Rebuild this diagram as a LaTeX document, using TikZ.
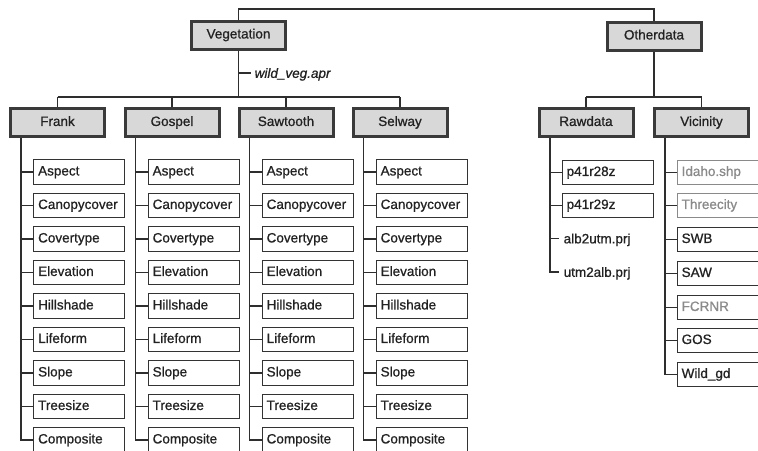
\documentclass[tikz,border=0pt]{standalone}
\usepackage{fontspec}
\setmainfont{Liberation Sans}[FakeBold=0.8]
\definecolor{ink}{HTML}{2E2E2E}
\definecolor{boxedge}{HTML}{3A3A3A}
\definecolor{boxfill}{HTML}{D8D8D8}
\definecolor{leafedge}{HTML}{333333}
\definecolor{txt}{HTML}{222222}
\definecolor{faded}{HTML}{8A8A8A}
\newcommand\diagfont{\fontsize{13.5}{16}\selectfont}
\tikzset{
  conn/.style={draw=ink, line width=1.3pt},
  topbox/.style={draw=boxedge, line width=3pt, fill=boxfill, minimum width=94pt,
    minimum height=28pt, inner sep=0pt, font=\diagfont, text=txt,
    text height=9.7pt, text depth=2.8pt},
  leaf/.style={draw=leafedge, line width=1.3pt, anchor=west, minimum height=24.5pt,
    text width=82pt, inner xsep=4.5pt, inner ysep=0pt, align=left, font=\diagfont,
    text=txt, text height=9.7pt, text depth=2.8pt},
  wideleaf/.style={leaf, text width=100pt},
  plaintext/.style={anchor=west, inner sep=0pt, font=\diagfont, text=txt,
    text height=9.7pt, text depth=0pt},
  fadedleaf/.style={wideleaf, draw=faded, text=faded},
}
\newcommand\vegcolumn[3]{%
  \node[topbox] (#1) at (#3,122.5) {#2};
  \draw[conn] (#1.north |- vbus) -- (#1.north);
  \foreach \t [count=\i] in {Aspect,Canopycover,Covertype,Elevation,Hillshade,Lifeform,Slope,Treesize,Composite}
    \node[leaf] (#1-\i) at (#3-24.5, 138.5+33.5*\i) {\t};
  \coordinate (#1-v) at ([xshift=-12pt]#1-1.west);
  \draw[conn] (#1-v |- #1.south) |- (#1-9.west);
  \foreach \i in {1,...,8} \draw[conn] ([xshift=-12pt]#1-\i.west) -- (#1-\i.west);
}
\begin{document}
\begin{tikzpicture}[x=1pt,y=-1pt]
\useasboundingbox (0,0) rectangle (758,450);
\clip (0,0) rectangle (758,450);
\fill[white] (0,0) rectangle (758,450);
% top level
\node[topbox] (veg) at (238.5,35) {Vegetation};
\node[topbox] (oth) at (654,36) {Otherdata};
\coordinate (toprow) at (0,9);
\draw[conn] (veg.north) |- (toprow -| oth.north) -- (oth.north);
% vegetation branch
\coordinate (vbus) at (0,97);
\draw[conn] (veg.south) -- (veg.south |- vbus);
\node[plaintext, font=\diagfont\itshape] (wv) at (254.5,73) {wild\_veg.apr};
\draw[conn] (veg.south |- wv.west) -- ([xshift=-4pt]wv.west);
\vegcolumn{frank}{Frank}{57.5}
\vegcolumn{gospel}{Gospel}{172}
\vegcolumn{saw}{Sawtooth}{286}
\vegcolumn{selway}{Selway}{400}
\draw[conn] (frank.north |- vbus) -- (selway.north |- vbus);
% otherdata branch
\coordinate (obus) at (0,97);
\draw[conn] (oth.south) -- (oth.south |- obus);
\node[topbox] (raw) at (586,122.5) {Rawdata};
\node[topbox] (vic) at (701.5,122.5) {Vicinity};
\draw[conn] (raw.north |- obus) -- (vic.north |- obus);
\draw[conn] (raw.north |- obus) -- (raw.north);
\draw[conn] (vic.north |- obus) -- (vic.north);
% rawdata leaves
\node[leaf] (r-1) at (561.5,172.5) {p41r28z};
\node[leaf] (r-2) at (561.5,205.5) {p41r29z};
\node[plaintext] (r-3) at (563.5,238.5) {alb2utm.prj};
\node[plaintext] (r-4) at (563.5,272) {utm2alb.prj};
\coordinate (raw-v) at ([xshift=-11.5pt]r-1.west);
\draw[conn] (raw-v |- raw.south) |- ([xshift=-5pt]r-4.west);
\draw[conn] ([xshift=-11.5pt]r-1.west) -- (r-1.west);
\draw[conn] ([xshift=-11.5pt]r-2.west) -- (r-2.west);
\draw[conn] (raw-v |- r-3.west) -- ([xshift=-5pt]r-3.west);
% vicinity leaves
\node[fadedleaf] (v-1) at (676.5,172.5) {Idaho.shp};
\node[fadedleaf] (v-2) at (676.5,205.5) {Threecity};
\node[wideleaf] (v-3) at (676.5,239.5) {SWB};
\node[wideleaf] (v-4) at (676.5,273.5) {SAW};
\node[wideleaf, text=faded] (v-5) at (676.5,307.5) {FCRNR};
\node[wideleaf] (v-6) at (676.5,340.5) {GOS};
\node[wideleaf] (v-7) at (676.5,374.5) {Wild\_gd};
\coordinate (vic-v) at ([xshift=-11.5pt]v-1.west);
\draw[conn] (vic-v |- vic.south) |- (v-7.west);
\foreach \i in {1,...,6} \draw[conn] ([xshift=-11.5pt]v-\i.west) -- (v-\i.west);
\end{tikzpicture}
\end{document}
